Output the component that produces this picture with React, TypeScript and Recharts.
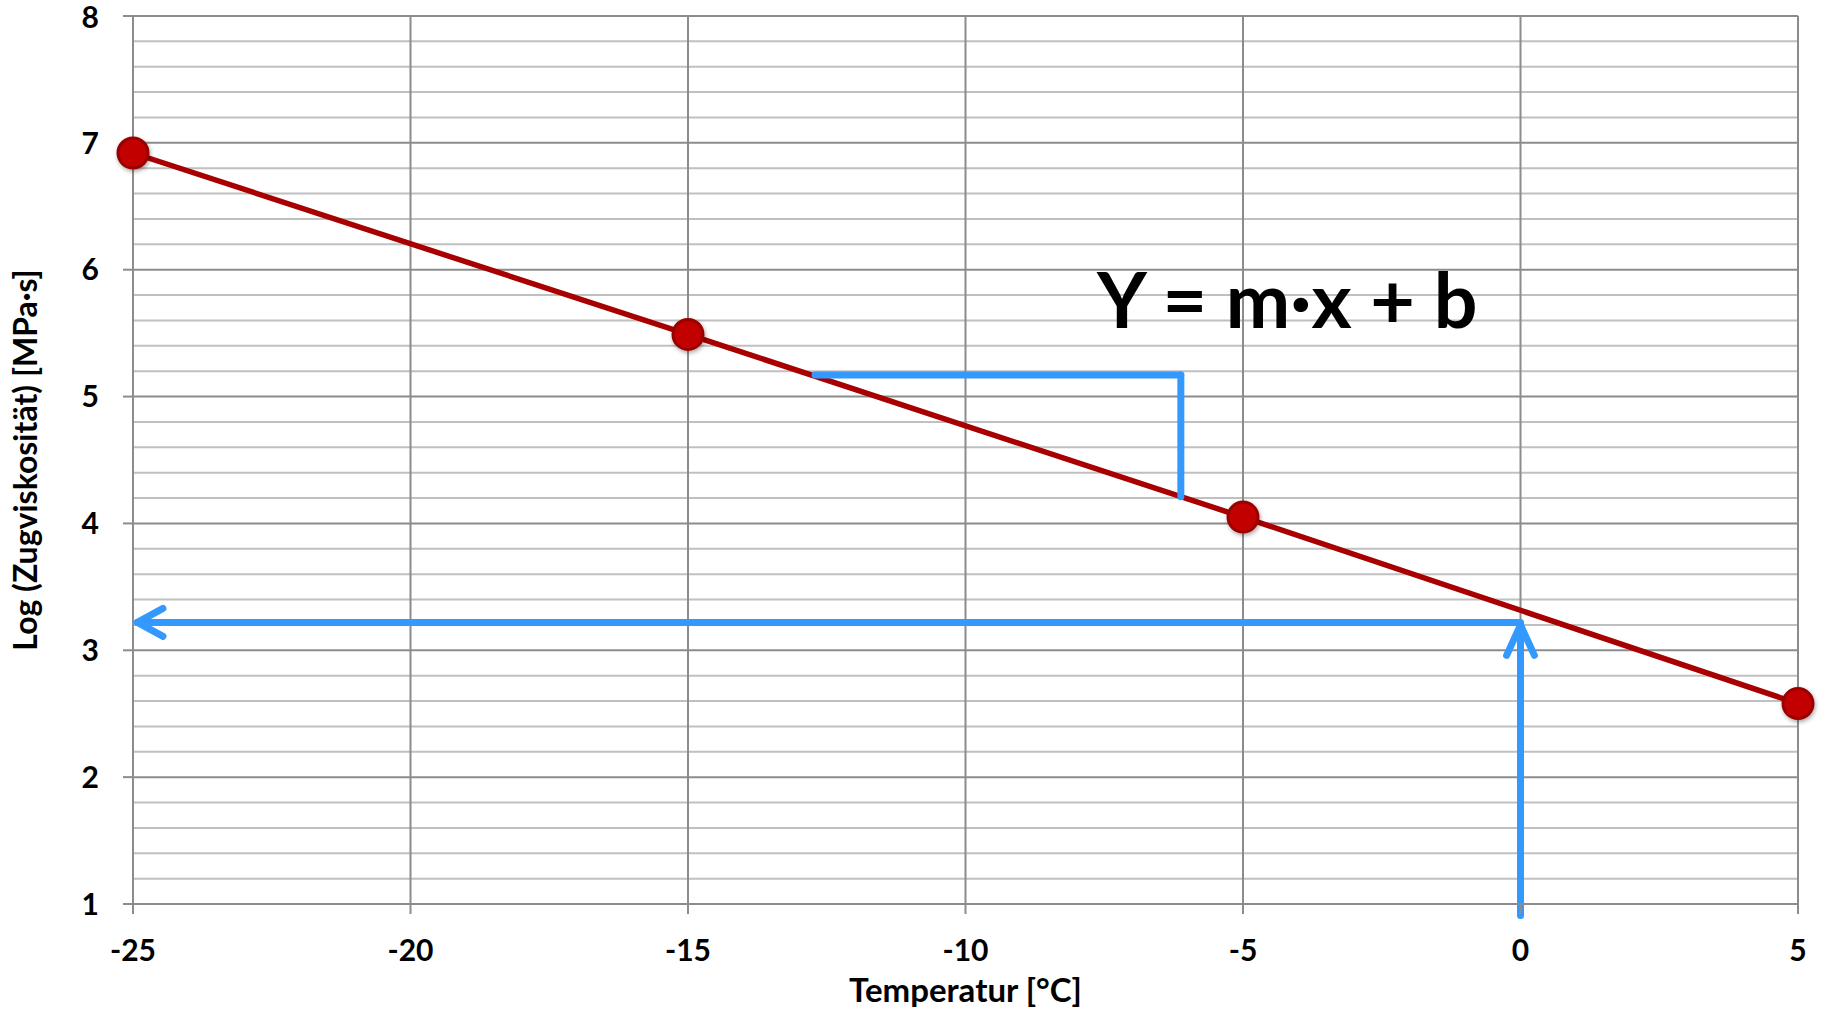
import { LineChart, Line, XAxis, YAxis, CartesianGrid, ReferenceLine } from 'recharts'

// Messwerte
const temps = [-25, -15, -5, 5]
const logVisc = [6.92, 5.49, 4.05, 2.58]

const xTicks = [-25, -20, -15, -10, -5, 0, 5]
const yTicks = [1, 2, 3, 4, 5, 6, 7, 8]
const yMinor = [
  1.2, 1.4, 1.6, 1.8, 2.2, 2.4, 2.6, 2.8, 3.2, 3.4, 3.6, 3.8, 4.2, 4.4, 4.6, 4.8,
  5.2, 5.4, 5.6, 5.8, 6.2, 6.4, 6.6, 6.8, 7.2, 7.4, 7.6, 7.8,
]

// blue helper lines (slope step + read-off arrows), data coordinates
const guideSegments = [
  [{ x: -12.71, y: 5.17 }, { x: -6.12, y: 5.17 }],
  [{ x: -6.12, y: 5.17 }, { x: -6.12, y: 4.21 }],
  [{ x: 0, y: 0.91 }, { x: 0, y: 3.2 }],
  [{ x: -0.25, y: 2.96 }, { x: 0, y: 3.2 }],
  [{ x: 0.25, y: 2.96 }, { x: 0, y: 3.2 }],
  [{ x: 0, y: 3.22 }, { x: -24.92, y: 3.22 }],
  [{ x: -24.46, y: 3.33 }, { x: -24.92, y: 3.22 }],
  [{ x: -24.46, y: 3.11 }, { x: -24.92, y: 3.22 }],
]

const data = temps.map((t, i) => ({ t, v: logVisc[i] }))

const tickStyle = { fontSize: 30, fontWeight: 700, fill: '#000' }

function RedDot(props: any) {
  const { cx, cy } = props
  if (cx == null || cy == null) return null
  return (
    <circle
      cx={cx}
      cy={cy}
      r={15}
      fill="#c20000"
      stroke="#9a0000"
      strokeWidth={3}
      filter="url(#dotShadow)"
    />
  )
}

export default function App() {
  return (
    <div style={{ fontFamily: 'Lato, sans-serif' }}>
      <style>{'body { margin: 0; }'}</style>
      <LineChart width={1823} height={1014} data={data} margin={{ top: 16, right: 25, bottom: 0, left: 0 }}>
        <defs>
          <filter id="dotShadow" x="-50%" y="-50%" width="200%" height="200%">
            <feDropShadow dx="1" dy="2" stdDeviation="2" floodColor="#000" floodOpacity="0.35" />
          </filter>
        </defs>
        <CartesianGrid horizontalValues={yMinor} vertical={false} stroke="#c0c0c0" strokeWidth={2} />
        <CartesianGrid horizontalValues={yTicks} verticalValues={xTicks} stroke="#8c8c8c" strokeWidth={2} />
        <XAxis
          type="number"
          dataKey="t"
          domain={[-25, 5]}
          ticks={xTicks}
          height={110}
          tickSize={10}
          tickMargin={26}
          stroke="#8c8c8c"
          strokeWidth={2}
          tick={tickStyle}
          label={{
            value: 'Temperatur [°C]',
            position: 'insideBottom',
            offset: 12,
            style: { fontSize: 33, fontWeight: 700, fill: '#000' },
          }}
        />
        <YAxis
          type="number"
          domain={[1, 8]}
          ticks={yTicks}
          width={133}
          tickSize={10}
          tickMargin={24}
          stroke="#8c8c8c"
          strokeWidth={2}
          tick={tickStyle}
          label={{
            value: 'Log (Zugviskosität) [MPa·s]',
            angle: -90,
            position: 'insideLeft',
            offset: 26,
            style: { fontSize: 32, fontWeight: 700, fill: '#000', textAnchor: 'middle' },
          }}
        />
        <Line
          type="linear"
          dataKey="v"
          stroke="#a80000"
          strokeWidth={5.5}
          dot={<RedDot />}
          activeDot={false}
          isAnimationActive={false}
        />
        {guideSegments.map((seg, i) => (
          <ReferenceLine
            key={i}
            segment={seg}
            stroke="#3399ff"
            strokeWidth={7}
            strokeLinecap="round"
            ifOverflow="visible"
          />
        ))}
        <text x={1097} y={328} fontSize={77} fontWeight={700} fill="#000">
          Y = m·x + b
        </text>
      </LineChart>
    </div>
  )
}
